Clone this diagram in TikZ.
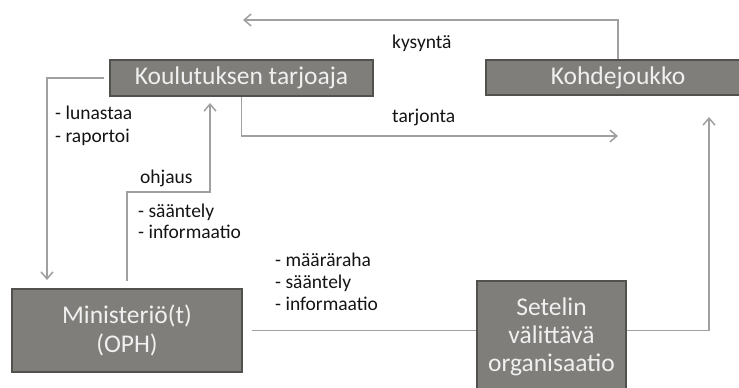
\documentclass[tikz,border=0pt]{standalone}
\usepackage{fontspec}
\setmainfont{Carlito}
\usetikzlibrary{arrows.meta}
\definecolor{boxfill}{RGB}{127,126,122}
\definecolor{boxedge}{RGB}{82,81,78}
\definecolor{wirecol}{RGB}{160,160,160}
\definecolor{ink}{RGB}{20,20,20}
\begin{document}
\begin{tikzpicture}[x=1pt,y=-1pt,
  box/.style={draw=boxedge, line width=2pt, fill=boxfill, text=white!94!black,
    font=\fontsize{25.5}{29}\selectfont, inner sep=0pt, align=center},
  flow/.style={draw=wirecol, line width=1.5pt, -{Straight Barb[length=7pt,width=12pt]}},
  plainwire/.style={draw=wirecol, line width=1.5pt},
  lbl/.style={text=ink, font=\fontsize{19.5}{23}\selectfont, anchor=base west, inner sep=0pt}]
\useasboundingbox (0,0) rectangle (739,388);

% boxes
\node[box, minimum width=263pt, minimum height=36pt] (kt) at (241.5,78) {Koulutuksen tarjoaja};
\node[box, minimum width=264pt, minimum height=35pt] (kj) at (618,77.5) {Kohdejoukko};
\node[box, minimum width=230pt, minimum height=83pt] (min) at (127,330.5) {Ministeriö(t)\\(OPH)};
\node[box, minimum width=149pt, minimum height=130pt, anchor=north,
  label={[name=svt, anchor=north, inner sep=0pt, yshift=-18pt, align=center,
    text=white!94!black, font=\fontsize{25.5}{28}\selectfont]north:Setelin\\välittävä\\organisaatio}]
  (sv) at (551.5,280) {};

% free ends of arrows
\coordinate (kyTip) at (243,20);
\coordinate (taTip) at (618,136);
\coordinate (luTip) at (47,280);
\coordinate (ohBend) at (210,192);
\coordinate (ohTip) at (210,103);
\coordinate (kjTip) at (709,117);

% connectors
\draw[flow] (kj.north) |- (kyTip);
\draw[flow] (kt.south) |- (taTip);
\draw[flow] ([xshift=-5pt]kt.west) -| (luTip);
\draw[flow] ([yshift=7pt]min.north) |- (ohBend) -- (ohTip);
\draw[plainwire] ([xshift=9pt]min.east) -- (min.east -| sv.west);
\draw[flow] (min.east -| sv.east) -| (kjTip);

% labels
\node[lbl] (lky) at (392,48) {kysyntä};
\node[lbl] (lta) at (392,122) {tarjonta};
\node[lbl] (llu) at (55,119) {- lunastaa};
\node[lbl] (lra) at (55,142) {- raportoi};
\node[lbl] (loh) at (140,183) {ohjaus};
\node[lbl] (ls1) at (138,217) {- sääntely};
\node[lbl] (li1) at (138,238) {- informaatio};
\node[lbl] (lmr) at (275,266) {- määräraha};
\node[lbl] (ls2) at (275,288) {- sääntely};
\node[lbl] (li2) at (275,310) {- informaatio};
\end{tikzpicture}
\end{document}
